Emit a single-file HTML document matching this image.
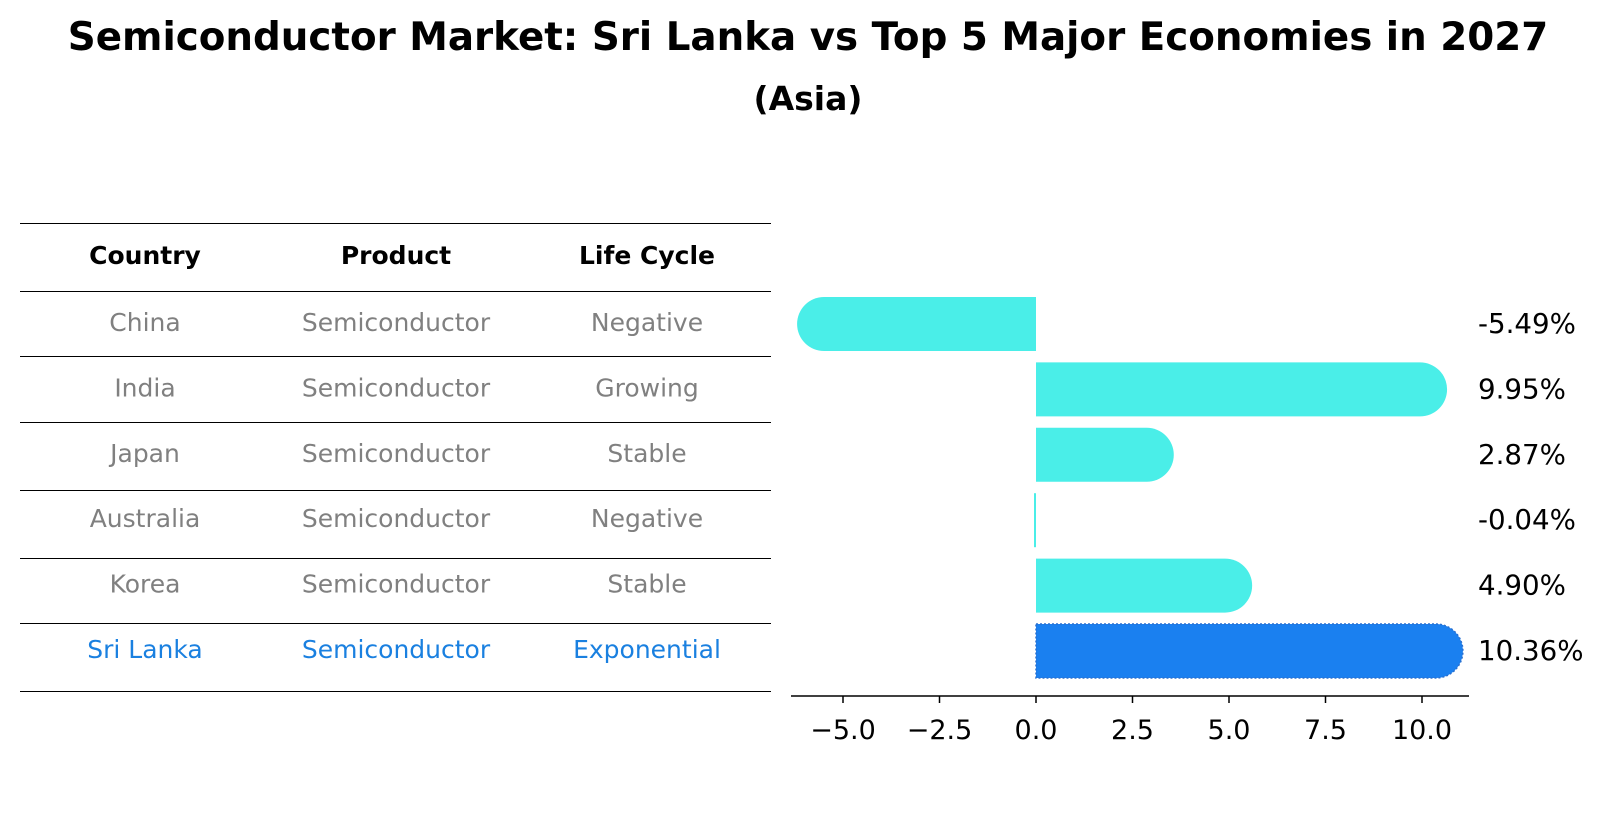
<!DOCTYPE html>
<html><head><meta charset="utf-8"><style>
body{margin:0;background:#fff;font-family:"Liberation Sans","DejaVu Sans",sans-serif;}
</style></head><body>
<svg width="1604" height="823" xmlns="http://www.w3.org/2000/svg" style="font-family:'DejaVu Sans','Liberation Sans',sans-serif">
<text x="808" y="50" text-anchor="middle" font-size="38.8" font-weight="bold">Semiconductor Market: Sri Lanka vs Top 5 Major Economies in 2027</text>
<text x="808" y="110" text-anchor="middle" font-size="33" font-weight="bold">(Asia)</text>
<g id="table"></g>
<g id="bars"></g>
</svg>
<script>
const countries=["China","India","Japan","Australia","Korea","Sri Lanka"];
const products=["Semiconductor","Semiconductor","Semiconductor","Semiconductor","Semiconductor","Semiconductor"];
const lifeCycles=["Negative","Growing","Stable","Negative","Stable","Exponential"];
const values=[-5.49,9.95,2.87,-0.04,4.90,10.36];
const ticks=[-5.0,-2.5,0.0,2.5,5.0,7.5,10.0];
const NS="http://www.w3.org/2000/svg";
function mk(t,a,p){const e=document.createElementNS(NS,t);for(const k in a)e.setAttribute(k,a[k]);p.appendChild(e);return e;}
const tbl=document.getElementById('table');
const lineYs=[223,291,356,422,490,558,623,691];
lineYs.forEach(y=>{const l=mk('line',{x1:20,x2:771,y1:y+0.5,y2:y+0.5,stroke:'#000','stroke-width':1},tbl);

});
const cx=[145,396,647];
["Country","Product","Life Cycle"].forEach((h,i)=>{const t=mk('text',{x:cx[i],y:264,'text-anchor':'middle','font-size':25,'font-weight':'bold'},tbl);t.textContent=h;

});
const rowY=i=>324+i*65.4;
countries.forEach((c,i)=>{const col=i===countries.length-1?'#1a80e0':'#808080';
[c,products[i],lifeCycles[i]].forEach((v,j)=>{const t=mk('text',{x:cx[j],y:rowY(i)+7,'text-anchor':'middle','font-size':25,fill:col},tbl);t.textContent=v;

});});
const g=document.getElementById('bars');
const x0=1036,sc=38.6,xs=v=>x0+v*sc,bh=54;
values.forEach((v,i)=>{const cy=rowY(i),last=i===values.length-1;
const col=last?'#1a80f0':'#4aeee8';
const xe=xs(v),dir=v<0?-1:1,r=bh/2;
let d;
if(Math.abs(v)<0.2){d=`M${x0},${cy-r}h${dir*2}v${bh}h${-dir*2}Z`;}
else{d=`M${x0},${cy-r}H${xe}A${r},${r} 0 0 ${dir>0?1:0} ${xe},${cy+r}H${x0}Z`;}
const p=mk('path',{d:d,fill:col},g);
if(last){p.setAttribute('stroke','#2a70d0');p.setAttribute('stroke-dasharray','2,2');p.setAttribute('stroke-width','1.5');}


const t=mk('text',{x:1478,y:cy+9,'font-size':27.7},g);t.textContent=v.toFixed(2)+'%';

});
const ax=mk('line',{x1:791,x2:1469,y1:696,y2:696,stroke:'#000','stroke-width':1.5},g);


ticks.forEach(v=>{const tk=mk('line',{x1:xs(v),x2:xs(v),y1:696,y2:703,stroke:'#000','stroke-width':1.5},g);


const t=mk('text',{x:xs(v),y:739,'text-anchor':'middle','font-size':27},g);t.textContent=(v<0?'\u2212':'')+Math.abs(v).toFixed(1);

});
</script>
</body></html>
